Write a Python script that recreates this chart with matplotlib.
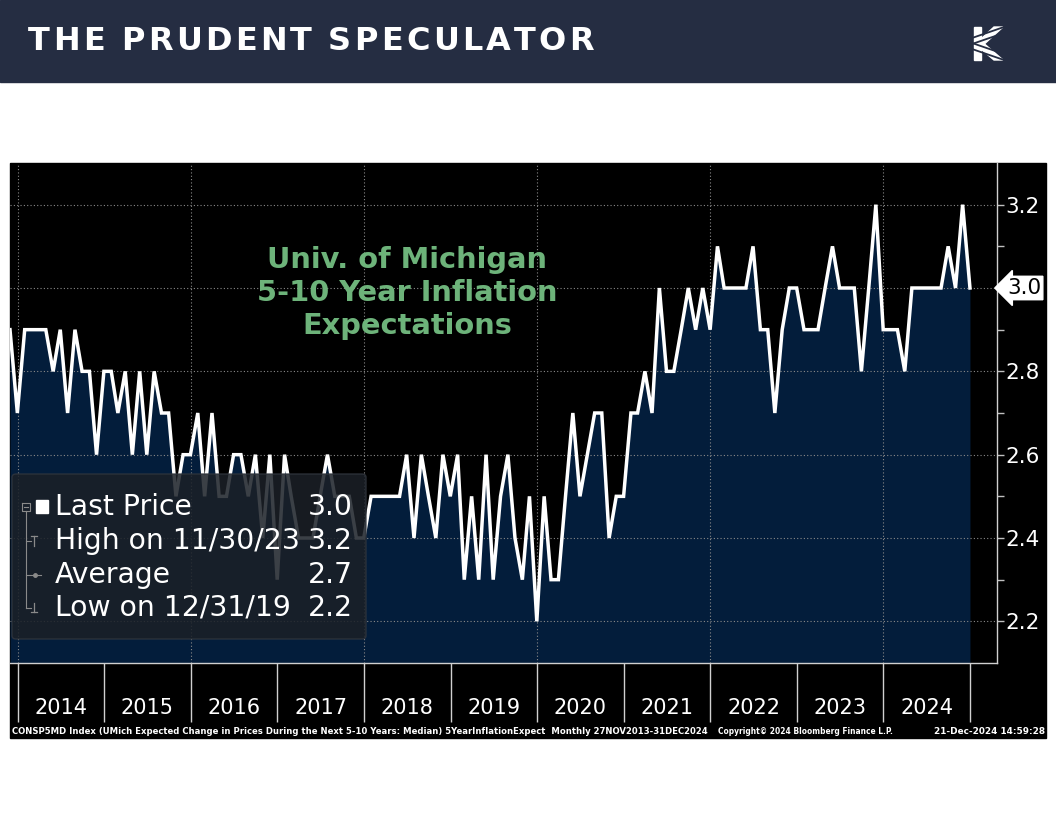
import matplotlib
matplotlib.use('Agg')
import matplotlib.pyplot as plt
import matplotlib.dates as mdates
from matplotlib.patches import Rectangle, FancyBboxPatch, Polygon
from matplotlib.lines import Line2D
from datetime import datetime
import pandas as pd
import numpy as np

# ---------------- data ----------------
first_month_end = '2013-11-30'
values = [
    2.9, 2.7,
    2.9, 2.9, 2.9, 2.9, 2.8, 2.9, 2.7, 2.9, 2.8, 2.8, 2.6, 2.8,   # 2014
    2.8, 2.7, 2.8, 2.6, 2.8, 2.6, 2.8, 2.7, 2.7, 2.5, 2.6, 2.6,   # 2015
    2.7, 2.5, 2.7, 2.5, 2.5, 2.6, 2.6, 2.5, 2.6, 2.4, 2.6, 2.3,   # 2016
    2.6, 2.5, 2.4, 2.4, 2.4, 2.5, 2.6, 2.5, 2.5, 2.5, 2.4, 2.4,   # 2017
    2.5, 2.5, 2.5, 2.5, 2.5, 2.6, 2.4, 2.6, 2.5, 2.4, 2.6, 2.5,   # 2018
    2.6, 2.3, 2.5, 2.3, 2.6, 2.3, 2.5, 2.6, 2.4, 2.3, 2.5, 2.2,   # 2019
    2.5, 2.3, 2.3, 2.5, 2.7, 2.5, 2.6, 2.7, 2.7, 2.4, 2.5, 2.5,   # 2020
    2.7, 2.7, 2.8, 2.7, 3.0, 2.8, 2.8, 2.9, 3.0, 2.9, 3.0, 2.9,   # 2021
    3.1, 3.0, 3.0, 3.0, 3.0, 3.1, 2.9, 2.9, 2.7, 2.9, 3.0, 3.0,   # 2022
    2.9, 2.9, 2.9, 3.0, 3.1, 3.0, 3.0, 3.0, 2.8, 3.0, 3.2, 2.9,   # 2023
    2.9, 2.9, 2.8, 3.0, 3.0, 3.0, 3.0, 3.0, 3.1, 3.0, 3.2, 3.0,   # 2024
]
year_labels = [2014, 2015, 2016, 2017, 2018, 2019, 2020, 2021, 2022, 2023, 2024]
yticks = [2.2, 2.4, 2.6, 2.8, 3.0, 3.2]
yminor = [2.3, 2.5, 2.7, 2.9, 3.1]
header_title = "THE PRUDENT SPECULATOR"
chart_title = "Univ. of Michigan\n5-10 Year Inflation\nExpectations"
footer_left = ("CONSP5MD Index (UMich Expected Change in Prices During the Next 5-10 Years: Median) "
               "5YearInflationExpect  Monthly 27NOV2013-31DEC2024")
footer_mid = "Copyright\u00a9 2024 Bloomberg Finance L.P."
footer_right = "21-Dec-2024 14:59:28"

dates = pd.date_range(first_month_end, periods=len(values), freq=pd.offsets.MonthEnd())

# ---------------- figure ----------------
W, H = 1056, 816
fig = plt.figure(figsize=(W / 100, H / 100), dpi=100)
fig.patch.set_facecolor('white')
NAVY = '#252d42'


def fx(x):
    return x / W


def fy(y):
    return 1 - y / H


renderer = fig.canvas.get_renderer()

# header band
fig.add_artist(Rectangle((0, fy(82)), 1, 82 / H, transform=fig.transFigure,
                         color=NAVY, zorder=-2))
# header title with letter tracking
fs_head = 23
chars = []
for ch in header_title:
    t = fig.text(0, fy(41), ch, fontsize=fs_head, weight='bold', color='white',
                 ha='left', va='center', family='DejaVu Sans')
    chars.append(t)
widths = []
for ch, t in zip(header_title, chars):
    if ch == ' ':
        widths.append(fs_head * 100 / 72 * 0.30)
    else:
        widths.append(t.get_window_extent(renderer).width)
target = 566
track = (target - sum(widths)) / (len(widths) - 1)
xpos = 28
for w, t in zip(widths, chars):
    t.set_x(fx(xpos))
    xpos += w + track


def fpoly(pts, **kw):
    fig.add_artist(Polygon([(fx(x), fy(y)) for x, y in pts], closed=True,
                           transform=fig.transFigure, **kw))


# logo (stylised K)
fpoly([(974, 27), (981, 27), (981, 60), (974, 60)], color='white', zorder=3)
fpoly([(981, 39), (994, 27), (1003, 27), (981, 47)], color='white', zorder=3)
fpoly([(981, 41), (1003, 60), (994, 60), (981, 49)], color='white', zorder=3)
for k in range(2):
    fig.add_artist(Line2D([fx(972), fx(1004)], [fy(40 - 6 * k + 4), fy(29 - 6 * k + 4)],
                          transform=fig.transFigure, color=NAVY, lw=1.3, zorder=4))
    fig.add_artist(Line2D([fx(972), fx(1004)], [fy(47 + 6 * k - 4), fy(58 + 6 * k - 4)],
                          transform=fig.transFigure, color=NAVY, lw=1.3, zorder=4))

# black chart panel
fig.add_artist(Rectangle((fx(10), fy(738)), fx(1046) - fx(10), (738 - 163) / H,
                         transform=fig.transFigure, color='black', zorder=-1))

# ---------------- axes ----------------
ax = fig.add_axes([fx(10), fy(663), fx(997) - fx(10), (663 - 163) / H])
ax.set_facecolor('black')

x0 = mdates.date2num(dates[0])
x1 = mdates.date2num(dates[-1]) + 114
ax.set_xlim(x0, x1)
ax.set_ylim(2.1, 3.3)

ax.fill_between(dates, values, 2.1, color='#031d3b', lw=0, zorder=1)
ax.plot(dates, values, color='white', lw=2.5, zorder=3, solid_joinstyle='miter')

grid_kw = dict(color='#8a8a8a', ls=(0, (1, 2)), lw=0.8, zorder=2)
for v in yticks:
    ax.axhline(v, **grid_kw)
for yr in year_labels[::2]:
    ax.axvline(mdates.date2num(datetime(yr, 1, 1)), **grid_kw)

for s in ['top', 'left']:
    ax.spines[s].set_visible(False)
for s in ['right', 'bottom']:
    ax.spines[s].set_color('#d0d0d0')
    ax.spines[s].set_linewidth(1)

# y axis on the right
ax.yaxis.tick_right()
ax.set_yticks(yticks)
ax.set_yticks(yminor, minor=True)
last = values[-1]
ax.set_yticklabels(['' if abs(v - last) < 1e-9 else f'{v:.1f}' for v in yticks])
ax.tick_params(axis='y', which='major', colors='#c0c0c0', labelcolor='white',
               length=5, width=1, labelsize=15.5, pad=1)
ax.tick_params(axis='y', which='minor', colors='#c0c0c0', length=5, width=1)

# x axis: separators at year starts, labels mid-year
sep_ticks = [mdates.date2num(datetime(y, 1, 1)) for y in year_labels + [year_labels[-1] + 1]]
mid_ticks = [mdates.date2num(datetime(y, 7, 2)) for y in year_labels]
ax.set_xticks(sep_ticks)
ax.set_xticklabels([''] * len(sep_ticks))
ax.set_xticks(mid_ticks, minor=True)
ax.set_xticklabels([str(y) for y in year_labels], minor=True)
ax.tick_params(axis='x', which='major', colors='#d0d0d0', length=42.5, width=1)
ax.tick_params(axis='x', which='minor', length=0, labelsize=15, labelcolor='white', pad=25)

# last price tag
ax.text(1.0 + 10 / 987, last, f'{last:.1f}', transform=ax.get_yaxis_transform(),
        ha='left', va='center', fontsize=15.5, color='black', zorder=5, clip_on=False,
        bbox=dict(boxstyle='larrow,pad=0.08', fc='white', ec='white'))

# chart title
fig.text(fx(407), fy(293), chart_title, ha='center', va='center', multialignment='center',
         fontsize=20.8, weight='bold', color='#6db37a', linespacing=1.24,
         family='DejaVu Sans')

# ---------------- legend box ----------------
fig.add_artist(FancyBboxPatch((fx(12), fy(639)), fx(366) - fx(12), (639 - 474) / H,
                              boxstyle='round,pad=0,rounding_size=0.004',
                              transform=fig.transFigure, fc='#1b2027', ec='#30353d',
                              alpha=0.86, zorder=4))
vals = np.array(values)
i_hi = int(np.argmax(vals))
i_lo = int(np.argmin(vals))
rows = [
    ('Last Price', f'{last:.1f}', 507),
    (f'High on {dates[i_hi].strftime("%m/%d/%y")}', f'{vals[i_hi]:.1f}', 541),
    ('Average', f'{vals.mean():.1f}', 575),
    (f'Low on {dates[i_lo].strftime("%m/%d/%y")}', f'{vals[i_lo]:.1f}', 608),
]
for lab, val, yy in rows:
    fig.text(fx(55), fy(yy), lab, fontsize=20.3, color='white', ha='left', va='center',
             zorder=6)
    fig.text(fx(353), fy(yy), val, fontsize=20.3, color='white', ha='right', va='center',
             zorder=6)

gcol = '#8a8a8a'


def fl(xs, ys, **kw):
    fig.add_artist(Line2D([fx(x) for x in xs], [fy(y) for y in ys],
                          transform=fig.transFigure, zorder=6, **kw))


fl([22, 30, 30, 22, 22], [503, 503, 511, 511, 503], color=gcol, lw=0.8)
fl([24, 28], [507, 507], color=gcol, lw=0.8)
fig.add_artist(Rectangle((fx(36), fy(513)), 12 / W, 13 / H, transform=fig.transFigure,
                         color='white', zorder=6))
fl([26, 26], [511, 608], color=gcol, lw=0.8)
fl([26, 31], [541, 541], color=gcol, lw=0.8)
fl([31, 37], [536, 536], color=gcol, lw=0.9)
fl([34, 34], [536, 546], color=gcol, lw=0.9)
fl([26, 41], [575, 575], color=gcol, lw=0.8)
fl([35], [575], color=gcol, marker='o', ms=2.5, lw=0)
fl([26, 31], [608, 608], color=gcol, lw=0.8)
fl([34, 34], [603, 612], color=gcol, lw=0.9)
fl([31, 37], [612, 612], color=gcol, lw=0.9)


# ---------------- footer ----------------
def fit(t, width):
    w = t.get_window_extent(renderer).width
    t.set_fontsize(t.get_fontsize() * width / w)


t1 = fig.text(fx(12), fy(731), footer_left, fontsize=6.5, color='white', ha='left',
              va='center', weight='bold')
fit(t1, 691)
t2 = fig.text(fx(718), fy(731), footer_mid, fontsize=6.5, color='white', ha='left',
              va='center', weight='bold')
fit(t2, 175)
t3 = fig.text(fx(1045), fy(731), footer_right, fontsize=6.5, color='white', ha='right',
              va='center', weight='bold')
fit(t3, 110)

fig.savefig('out.png', dpi=100, facecolor='white')
